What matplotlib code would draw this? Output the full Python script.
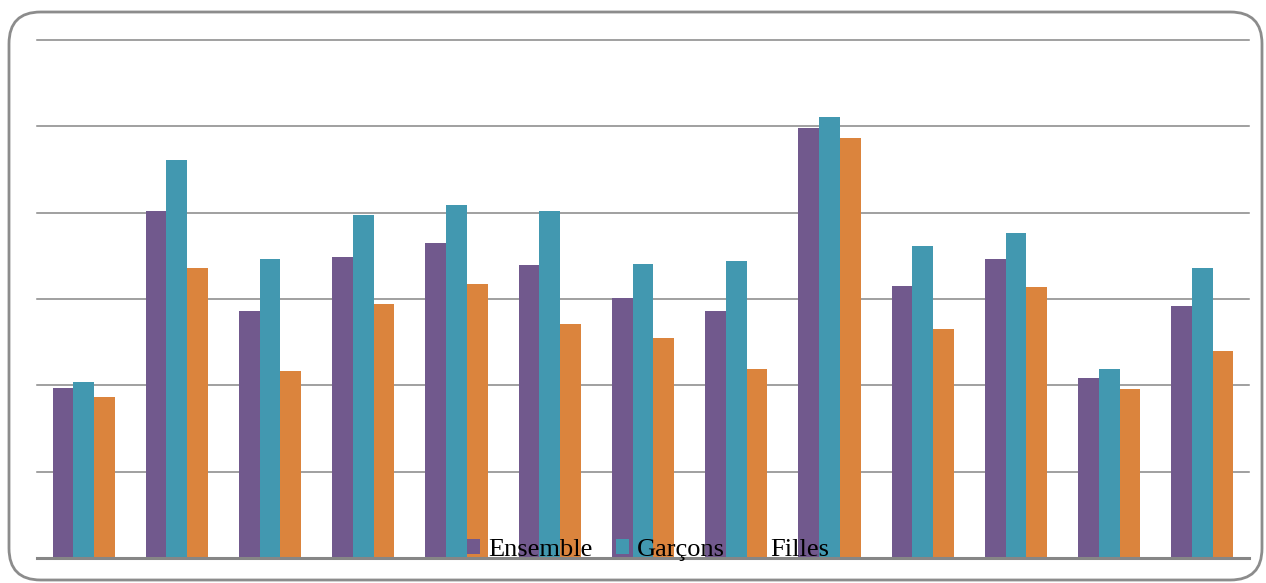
import numpy as np
import matplotlib.pyplot as plt
from matplotlib.patches import FancyBboxPatch

# values (one gridline step = 1 unit)
groups = list(range(1, 14))
ensemble = [1.97, 4.02, 2.86, 3.49, 3.65, 3.39, 3.01, 2.86, 4.98, 3.15, 3.46, 2.09, 2.92]
garcons = [2.04, 4.61, 3.46, 3.97, 4.09, 4.02, 3.41, 3.44, 5.11, 3.61, 3.76, 2.19, 3.36]
filles = [1.86, 3.36, 2.17, 2.94, 3.17, 2.71, 2.55, 2.19, 4.87, 2.65, 3.14, 1.96, 2.40]
series_names = ['Ensemble', 'Garçons', 'Filles']
colors = ['#71598D', '#4298B0', '#DB843D']

fig = plt.figure(figsize=(12.66, 5.83), dpi=100)

# rounded outer frame
frame = FancyBboxPatch((9 / 1266, 3 / 583), 1253 / 1266, 568 / 583,
                       boxstyle='round,pad=0,rounding_size=0.025',
                       transform=fig.transFigure, fill=False,
                       edgecolor='#8c8c8c', linewidth=2, mutation_aspect=1266 / 583)
fig.patches.append(frame)

ax = fig.add_axes([37 / 1266, 25 / 583, 1212 / 1266, 518 / 583])

x = np.arange(len(groups))
w = 0.222
for i, (vals, name) in enumerate(zip([ensemble, garcons, filles], series_names)):
    ax.bar(x + (i - 1) * w, vals, width=w, color=colors[i], label=name, zorder=3)

for yv in range(1, 7):
    ax.axhline(yv, color='#868686', linewidth=1.1, zorder=1, clip_on=False)
ax.axhline(0, color='#868686', linewidth=2.2, zorder=4, clip_on=False)

ax.set_xlim(-0.5, len(groups) - 0.5)
ax.set_ylim(0, 6)
ax.set_xticks([])
ax.set_yticks([])
for s in ax.spines.values():
    s.set_visible(False)

leg = ax.legend(loc='lower center', bbox_to_anchor=(0.504, -0.052), ncol=3,
                frameon=False, prop={'family': 'Liberation Serif', 'size': 19},
                handlelength=0.5, handleheight=0.5, handletextpad=0.3,
                columnspacing=0.9)

fig.savefig('out.png', dpi=100)
